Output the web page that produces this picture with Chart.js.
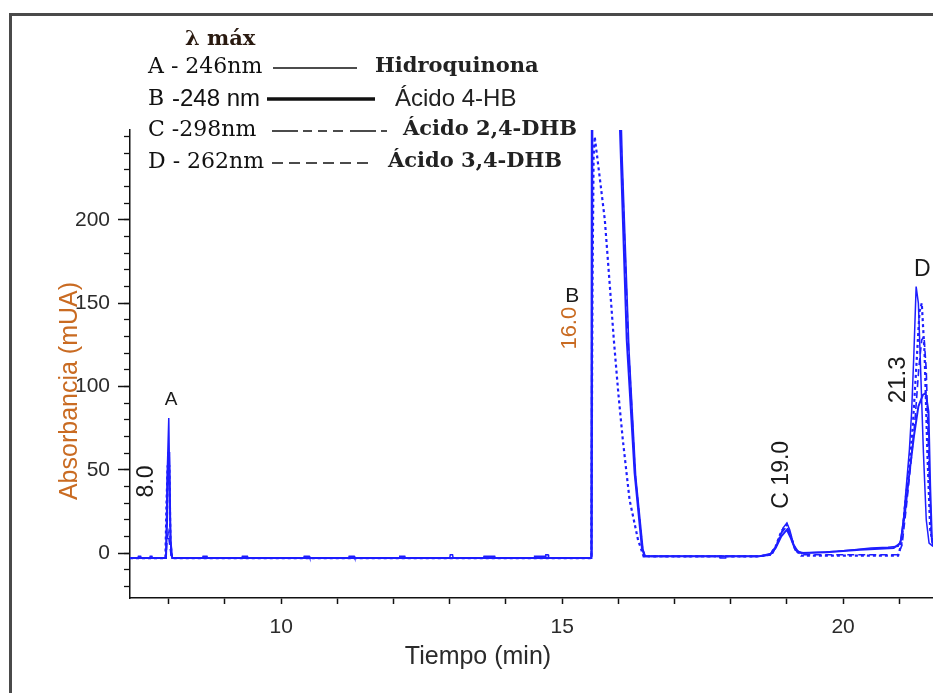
<!DOCTYPE html>
<html lang="es">
<head>
<meta charset="utf-8">
<title>Cromatograma HPLC</title>
<script src="https://cdn.jsdelivr.net/npm/chart.js@4.4.1/dist/chart.umd.min.js"></script>
<style>
  html, body { margin: 0; padding: 0; background: #fff; }
  #wrap { width: 933px; height: 693px; }
</style>
</head>
<body>
<div id="wrap"><canvas id="cromChart" width="933" height="693"></canvas></div>
<script>
// picos, compuestos y longitud de onda de detección
const picos = ['A', 'B', 'C', 'D'];
const compuestos = ['Hidroquinona', 'Ácido 4-HB', 'Ácido 2,4-DHB', 'Ácido 3,4-DHB'];
const lambdaMax = [246, 248, 298, 262];
const tiemposRetencion = [8.0, 16.0, 19.0, 21.3];

// marcas con rótulo en los ejes
const ticksTiempo = [10, 15, 20];
const ticksAbs = [0, 50, 100, 150, 200];

// señales [tiempo (min), absorbancia (mUA)]
const senal246 = [
  [7.31, -3], [7.45, -3], [7.46, -2], [7.5, -2], [7.51, -3], [7.66, -3], [7.67, -2], [7.7, -2], [7.71, -3],
  [7.95, -3], [7.97, 45], [8.0, 81], [8.02, 30], [8.04, -1], [8.07, -3],
  [8.6, -3], [8.61, -2], [8.68, -2], [8.69, -3], [9.3, -3], [9.31, -2], [9.4, -2], [9.41, -3],
  [10.4, -3], [10.41, -2], [10.5, -2], [10.51, -3], [11.2, -3], [11.21, -2], [11.3, -2], [11.31, -3],
  [12.1, -3], [12.11, -2], [12.2, -2], [12.21, -3], [13.0, -3], [13.01, -1], [13.05, -1], [13.06, -3],
  [13.6, -3], [13.61, -2], [13.8, -2], [13.81, -3], [14.5, -3], [14.51, -2], [14.7, -2], [14.71, -1],
  [14.75, -1], [14.76, -3], [15.3, -3], [15.5, -3],
  [15.53, -2], [15.55, 420], [15.9, 450], [16.07, 236], [16.19, 122], [16.31, 46], [16.44, 2], [16.48, -2],
  [17.2, -2], [17.8, -2], [17.81, -3], [17.9, -3], [17.91, -2], [18.5, -2], [18.62, -1], [18.75, 0],
  [18.85, 7], [18.93, 15], [19.0, 18], [19.05, 14], [19.12, 5], [19.2, 1], [19.3, 0],
  [19.6, 0.5], [19.9, 1], [20.2, 2], [20.5, 3], [20.8, 3.5], [20.98, 4], [21.03, 8], [21.08, 22],
  [21.13, 42], [21.18, 62], [21.22, 85], [21.26, 120], [21.3, 160], [21.34, 150], [21.38, 110],
  [21.43, 60], [21.48, 20], [21.53, 6], [21.6, 4]
];
const senal248 = [
  [7.31, -3], [7.95, -3], [7.97, 20], [7.99, 60], [8.01, 60], [8.03, 8], [8.06, -3], [15.5, -3],
  [15.52, -3], [15.535, 480], [15.8, 520], [15.98, 480], [16.03, 254], [16.15, 128], [16.29, 48],
  [16.42, 3], [16.47, -2],
  [18.5, -2], [18.7, -1], [18.8, 3], [18.9, 10], [19.0, 14], [19.07, 9], [19.15, 2], [19.25, 0],
  [19.7, 0.5], [20.3, 2], [20.9, 3], [21.02, 6], [21.1, 24], [21.18, 48], [21.26, 70], [21.34, 88],
  [21.42, 95], [21.47, 96], [21.52, 85], [21.55, 40], [21.58, 8], [21.6, 4]
];
const senal298 = [
  [7.31, -3], [7.95, -3], [7.97, 8], [7.99, 12], [8.02, 4], [8.05, -3], [15.5, -3],
  [15.52, -3], [15.54, 400], [15.9, 430], [16.05, 245], [16.18, 125], [16.3, 47], [16.43, 3], [16.47, -2],
  [18.5, -2], [18.7, -1], [18.8, 4], [18.9, 12], [19.0, 16], [19.07, 10], [19.15, 2], [19.25, -1],
  [20.0, -1], [20.98, -1], [21.05, 5], [21.12, 26], [21.2, 52], [21.28, 80], [21.35, 112], [21.4, 128],
  [21.44, 130], [21.48, 110], [21.53, 50], [21.57, 12], [21.6, 5]
];
const senal262 = [
  [7.31, -3], [7.94, -3], [7.96, 30], [7.98, 52], [8.01, 52], [8.03, 6], [8.06, -3], [15.5, -3],
  [15.52, -3], [15.54, 160], [15.56, 238], [15.58, 250], [15.66, 228], [15.76, 200], [15.85, 160],
  [15.92, 128], [16.0, 96], [16.08, 68], [16.2, 32], [16.35, 8], [16.45, -2],
  [18.5, -2], [18.7, -1], [18.8, 4], [18.9, 13], [19.0, 17], [19.07, 10], [19.15, 2], [19.25, -1.5],
  [20.0, -1.5], [20.98, -1.5], [21.04, 6], [21.1, 28], [21.17, 50], [21.24, 76], [21.3, 110],
  [21.36, 145], [21.4, 150], [21.45, 120], [21.5, 60], [21.55, 14], [21.6, 5]
];

const azul = '#1e1eff';
const naranja = '#c96b22';
const gris = '#2b2b2b';
const sans = '"Liberation Sans", Arial, sans-serif';
const serif = '"DejaVu Serif", serif';

function serie(datos) {
  return datos.map(p => ({ x: p[0], y: p[1] }));
}

function texto(ctx, s, x, y, font, color, align, girado) {
  ctx.save();
  ctx.font = font;
  ctx.fillStyle = color;
  ctx.textAlign = align || 'left';
  ctx.textBaseline = 'middle';
  ctx.translate(x, y);
  if (girado) ctx.rotate(-Math.PI / 2);
  ctx.fillText(s, 0, 0);
  ctx.restore();
}

function linea(ctx, x0, x1, y, ancho, guiones) {
  ctx.save();
  ctx.strokeStyle = '#111';
  ctx.lineWidth = ancho;
  ctx.setLineDash(guiones || []);
  ctx.beginPath();
  ctx.moveTo(x0, y);
  ctx.lineTo(x1, y);
  ctx.stroke();
  ctx.restore();
}

// marco, títulos de ejes, leyenda de longitudes de onda y rótulos de picos
const rotulos = {
  id: 'rotulos',
  afterDraw(chart) {
    const { ctx, scales: { x, y } } = chart;

    ctx.save();
    ctx.strokeStyle = '#4a4a4a';
    ctx.lineWidth = 3;
    ctx.beginPath();
    ctx.moveTo(10.5, 693);
    ctx.lineTo(10.5, 14.5);
    ctx.lineTo(933, 14.5);
    ctx.stroke();
    ctx.restore();

    texto(ctx, 'Absorbancia (mUA)', 70, 391, '25px ' + sans, naranja, 'center', true);
    texto(ctx, 'Tiempo (min)', 478, 657, '25px ' + sans, gris, 'center');

    // leyenda
    const filas = [67, 99, 130, 162];
    texto(ctx, 'λ máx', 185, 40, 'bold 21px ' + serif, '#2a1a10');

    texto(ctx, picos[0] + ' - ' + lambdaMax[0] + 'nm', 148, filas[0], '22px ' + serif, '#111');
    linea(ctx, 273, 357, filas[0] + 1, 1.3);
    texto(ctx, compuestos[0], 375, filas[0], 'bold 21px ' + serif, '#222');

    texto(ctx, picos[1], 148, filas[1], '22px ' + serif, '#111');
    texto(ctx, '-' + lambdaMax[1] + ' nm', 172, filas[1], '24px ' + sans, '#111');
    linea(ctx, 267, 375, filas[1], 3.5);
    texto(ctx, compuestos[1], 395, filas[1], '24px ' + sans, '#222');

    texto(ctx, picos[2] + ' -' + lambdaMax[2] + 'nm', 148, filas[2], '22px ' + serif, '#111');
    linea(ctx, 272, 387, filas[2] + 1, 1.3, [26, 5, 9, 6, 9, 6, 10, 7]);
    texto(ctx, compuestos[2], 403, filas[2], 'bold 21px ' + serif, '#222');

    texto(ctx, picos[3] + ' - ' + lambdaMax[3] + 'nm', 148, filas[3], '22px ' + serif, '#111');
    linea(ctx, 272, 374, filas[3] + 1, 1.3, [11, 6]);
    texto(ctx, compuestos[3], 388, filas[3], 'bold 21px ' + serif, '#222');

    // rótulos de los picos
    const etiquetas = [
      { s: picos[0], t: 8.04, a: 92, f: 19 },
      { s: tiemposRetencion[0].toFixed(1), t: 7.6, a: 43, f: 23, rot: true },
      { s: picos[1], t: 15.18, a: 154, f: 21 },
      { s: tiemposRetencion[1].toFixed(1), t: 15.14, a: 135, f: 22, rot: true, c: naranja },
      { s: picos[2] + ' ' + tiemposRetencion[2].toFixed(1), t: 18.91, a: 47, f: 23, rot: true },
      { s: tiemposRetencion[3].toFixed(1), t: 20.98, a: 104, f: 24, rot: true },
      { s: picos[3], t: 21.41, a: 170, f: 23 }
    ];
    etiquetas.forEach(e => {
      texto(ctx, e.s, x.getPixelForValue(e.t), y.getPixelForValue(e.a),
        e.f + 'px ' + sans, e.c || '#1a1a1a', 'center', e.rot);
    });
  }
};

function conjunto(nombre, datos, ancho, guiones) {
  return {
    label: nombre,
    data: serie(datos),
    borderColor: azul,
    borderWidth: ancho,
    borderDash: guiones,
    pointRadius: 0,
    tension: 0,
    clip: 0
  };
}

const ejeTicks = { color: gris, font: { family: sans, size: 21 } };

new Chart(document.getElementById('cromChart'), {
  type: 'line',
  data: {
    datasets: [
      conjunto(compuestos[0], senal246, 1.5, []),
      conjunto(compuestos[1], senal248, 2, []),
      conjunto(compuestos[2], senal298, 1.6, [7, 4]),
      conjunto(compuestos[3], senal262, 2.2, [3, 3])
    ]
  },
  options: {
    responsive: false,
    animation: false,
    layout: { padding: { top: 130, left: 0, right: 0, bottom: 0 } },
    plugins: { legend: { display: false }, tooltip: { enabled: false } },
    scales: {
      x: {
        type: 'linear',
        min: 7.31,
        max: 21.6,
        afterFit: s => { s.height = 95; },
        grid: { drawOnChartArea: false, drawTicks: true, tickLength: 6, tickColor: '#111', tickWidth: 1.5 },
        border: { display: true, color: '#111', width: 1.5 },
        ticks: {
          ...ejeTicks,
          stepSize: 1,
          includeBounds: false,
          autoSkip: false,
          maxRotation: 0,
          padding: 11,
          callback: v => ticksTiempo.includes(Math.round(v)) && Math.abs(v - Math.round(v)) < 1e-6 ? String(Math.round(v)) : ''
        }
      },
      y: {
        min: -27,
        max: 254,
        weight: 1,
        afterFit: s => { s.width = 130; },
        afterBuildTicks: s => { s.ticks = ticksAbs.map(v => ({ value: v })); },
        grid: { drawOnChartArea: false, drawTicks: true, tickLength: 12, tickColor: '#111', tickWidth: 1.5 },
        border: { display: true, color: '#111', width: 1.5 },
        ticks: { ...ejeTicks, padding: 8, callback: v => String(v) }
      },
      yMenor: {
        position: 'left',
        min: -27,
        max: 254,
        weight: 0,
        afterFit: s => { s.width = 0; },
        grid: { drawOnChartArea: false, drawTicks: true, tickLength: 6, tickColor: '#111', tickWidth: 1.3 },
        border: { display: false },
        ticks: { stepSize: 10, includeBounds: false, autoSkip: false, display: false }
      }
    }
  },
  plugins: [rotulos]
});
</script>
</body>
</html>
